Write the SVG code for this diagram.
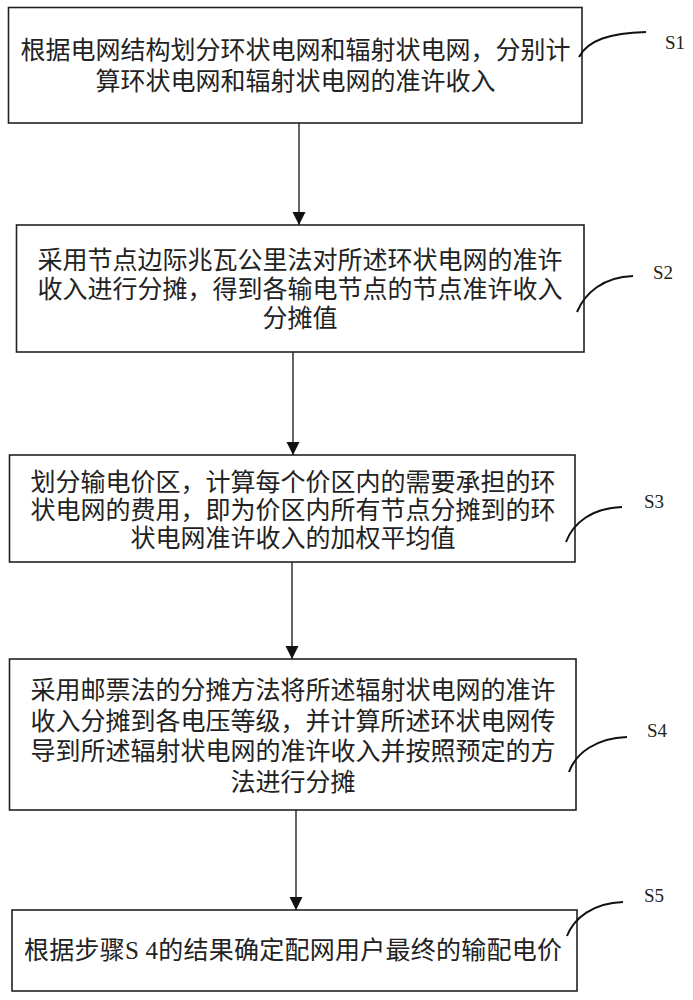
<svg xmlns="http://www.w3.org/2000/svg" width="693" height="1000" viewBox="0 0 693 1000">
<style>
.box{fill:#fff;stroke:#222;stroke-width:1.6}
.t{font-family:"Noto Sans CJK SC","Noto Sans CJK JP",sans-serif;font-size:25px;fill:#222;text-anchor:middle}
.lbl{font-family:"Liberation Serif",serif;font-size:19px;fill:#222}
.lead{fill:none;stroke:#111;stroke-width:2}
.conn{stroke:#111;stroke-width:1.3;fill:none}
</style>
<defs>
<marker id="ah" markerUnits="userSpaceOnUse" markerWidth="14" markerHeight="18" refX="13" refY="6.5" orient="auto">
<path d="M0,0 L13,6.5 L0,13 Z" fill="#111"/>
</marker>
</defs>
<rect width="693" height="1000" fill="#fff"/>
<g id="connectors">
<line class="conn" x1="299" y1="123" x2="299" y2="225" marker-end="url(#ah)"/>
<line class="conn" x1="293" y1="352" x2="293" y2="455" marker-end="url(#ah)"/>
<line class="conn" x1="292" y1="562" x2="292" y2="659" marker-end="url(#ah)"/>
<line class="conn" x1="296" y1="810" x2="296" y2="910" marker-end="url(#ah)"/>
</g>
<g id="S1">
<rect class="box" x="8.5" y="7.5" width="573.5" height="115.5"/>
<text class="t" x="295.5" y="59">根据电网结构划分环状电网和辐射状电网，分别计</text>
<text class="t" x="295.5" y="90">算环状电网和辐射状电网的准许收入</text>
<path class="lead" d="M579,57 C588,40 610,33 646,32"/>
<text class="lbl" x="665" y="49">S1</text>
</g>
<g id="S2">
<rect class="box" x="16.5" y="225" width="567.5" height="127"/>
<text class="t" x="300" y="269">采用节点边际兆瓦公里法对所述环状电网的准许</text>
<text class="t" x="300" y="298">收入进行分摊，得到各输电节点的节点准许收入</text>
<text class="t" x="300" y="327">分摊值</text>
<path class="lead" d="M577,312 C585,293 603,277 633,276"/>
<text class="lbl" x="653" y="279">S2</text>
</g>
<g id="S3">
<rect class="box" x="9.5" y="455" width="565.5" height="107"/>
<text class="t" x="293" y="491">划分输电价区，计算每个价区内的需要承担的环</text>
<text class="t" x="293" y="519">状电网的费用，即为价区内所有节点分摊到的环</text>
<text class="t" x="293" y="547">状电网准许收入的加权平均值</text>
<path class="lead" d="M566,542 C573,523 592,508 622,507"/>
<text class="lbl" x="644" y="508">S3</text>
</g>
<g id="S4">
<rect class="box" x="9.5" y="659" width="566.5" height="151"/>
<text class="t" x="293" y="699">采用邮票法的分摊方法将所述辐射状电网的准许</text>
<text class="t" x="293" y="730">收入分摊到各电压等级，并计算所述环状电网传</text>
<text class="t" x="293" y="760">导到所述辐射状电网的准许收入并按照预定的方</text>
<text class="t" x="293" y="791">法进行分摊</text>
<path class="lead" d="M569,772 C576,753 596,738 627,737"/>
<text class="lbl" x="647" y="737">S4</text>
</g>
<g id="S5">
<rect class="box" x="12" y="910" width="565" height="81"/>
<text class="t" x="293" y="959" textLength="538" lengthAdjust="spacing">根据步骤<tspan font-family="Liberation Serif">S 4</tspan>的结果确定配网用户最终的输配电价</text>
<path class="lead" d="M567,936 C574,918 593,903 623,902"/>
<text class="lbl" x="644" y="902">S5</text>
</g>
</svg>
